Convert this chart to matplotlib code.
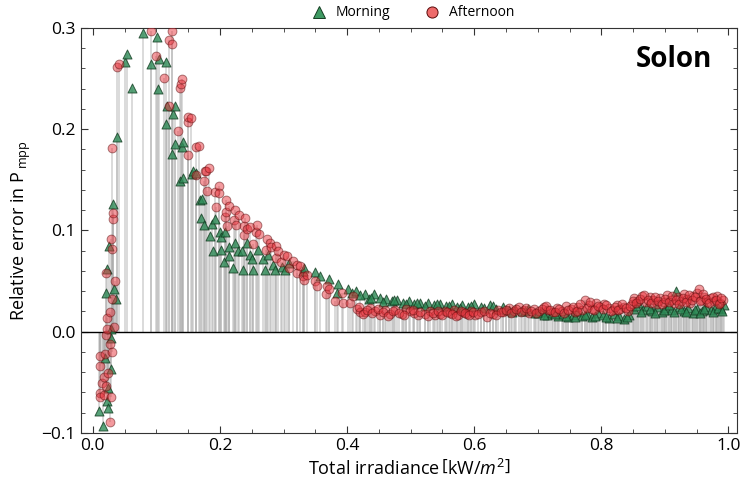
import matplotlib
matplotlib.use('Agg')
import matplotlib.pyplot as plt
import numpy as np
from matplotlib.lines import Line2D
from matplotlib.ticker import MultipleLocator, FormatStrFormatter, FuncFormatter

plt.rcParams['font.family'] = ['Open Sans', 'DejaVu Sans']
plt.rcParams['mathtext.fontset'] = 'custom'
plt.rcParams['mathtext.rm'] = 'Open Sans'
plt.rcParams['mathtext.it'] = 'Open Sans:italic'

# Morning (green triangles)
morning_x = [0.010, 0.016, 0.019, 0.020, 0.022, 0.023, 0.024, 0.024, 0.026, 0.029,
             0.029, 0.029, 0.032, 0.034, 0.036, 0.038, 0.051, 0.053, 0.061, 0.079,
             0.091, 0.101, 0.103, 0.104, 0.115, 0.115, 0.117, 0.124, 0.126, 0.129,
             0.129, 0.137, 0.140, 0.142, 0.142, 0.156, 0.158, 0.163, 0.168, 0.170,
             0.171, 0.175, 0.185, 0.187, 0.189, 0.192, 0.200, 0.201, 0.201, 0.206,
             0.208, 0.214, 0.215, 0.221, 0.224, 0.229, 0.234, 0.237, 0.242, 0.248,
             0.250, 0.252, 0.260, 0.267, 0.271, 0.276, 0.284, 0.287, 0.297, 0.302,
             0.308, 0.331, 0.332, 0.350, 0.357, 0.371, 0.384, 0.386, 0.402, 0.407,
             0.414, 0.428, 0.434, 0.443, 0.452, 0.461, 0.470, 0.478, 0.488, 0.497,
             0.506, 0.515, 0.528, 0.537, 0.546, 0.556, 0.565, 0.573, 0.581, 0.590,
             0.599, 0.610, 0.625, 0.635, 0.645, 0.655, 0.665, 0.675, 0.685, 0.695,
             0.705, 0.715, 0.722, 0.732, 0.740, 0.748, 0.755, 0.762, 0.770, 0.778,
             0.786, 0.795, 0.803, 0.812, 0.820, 0.828, 0.836, 0.844, 0.852, 0.858,
             0.865, 0.872, 0.880, 0.888, 0.895, 0.902, 0.910, 0.917, 0.922, 0.930,
             0.937, 0.944, 0.951, 0.958, 0.965, 0.972, 0.980, 0.988, 0.993,
             0.420, 0.438, 0.456, 0.474, 0.492, 0.510, 0.522, 0.541, 0.560, 0.578,
             0.595, 0.615, 0.630, 0.650, 0.660, 0.680, 0.700, 0.710, 0.727, 0.745,
             0.758, 0.774, 0.790, 0.808, 0.824, 0.840, 0.855, 0.862, 0.876, 0.884,
             0.898, 0.906, 0.914, 0.926, 0.934, 0.948, 0.955, 0.962, 0.976, 0.984,
             0.990]
morning_y = [-0.078, -0.093, -0.026, 0.038, -0.069, 0.062, -0.056, -0.075, 0.085, 0.003,
             -0.006, -0.037, 0.126, 0.042, 0.032, 0.192, 0.266, 0.274, 0.241, 0.295,
             0.264, 0.291, 0.240, 0.269, 0.266, 0.205, 0.223, 0.175, 0.215, 0.223,
             0.185, 0.149, 0.182, 0.187, 0.152, 0.156, 0.159, 0.157, 0.130, 0.112,
             0.131, 0.105, 0.094, 0.106, 0.080, 0.111, 0.098, 0.081, 0.093, 0.069,
             0.098, 0.084, 0.075, 0.063, 0.088, 0.080, 0.080, 0.061, 0.088, 0.076,
             0.072, 0.061, 0.081, 0.072, 0.061, 0.076, 0.066, 0.061, 0.064, 0.061,
             0.068, 0.060, 0.063, 0.059, 0.055, 0.052, 0.038, 0.047, 0.042, 0.038,
             0.040, 0.037, 0.032, 0.037, 0.033, 0.032, 0.030, 0.031, 0.028, 0.030,
             0.027, 0.028, 0.028, 0.026, 0.027, 0.025, 0.027, 0.024, 0.026, 0.024,
             0.027, 0.024, 0.026, 0.022, 0.024, 0.021, 0.022, 0.020, 0.022, 0.018,
             0.019, 0.016, 0.018, 0.015, 0.017, 0.014, 0.016, 0.019, 0.015, 0.017,
             0.014, 0.018, 0.016, 0.013, 0.017, 0.015, 0.012, 0.016, 0.022, 0.028,
             0.021, 0.025, 0.020, 0.024, 0.019, 0.023, 0.021, 0.040, 0.024, 0.020,
             0.023, 0.018, 0.022, 0.020, 0.024, 0.021, 0.025, 0.022, 0.026,
             0.036, 0.033, 0.029, 0.031, 0.027, 0.028, 0.025, 0.027, 0.025, 0.023,
             0.025, 0.023, 0.025, 0.021, 0.019, 0.020, 0.018, 0.016, 0.017, 0.015,
             0.014, 0.016, 0.015, 0.014, 0.013, 0.014, 0.025, 0.019, 0.022, 0.018,
             0.021, 0.026, 0.019, 0.022, 0.019, 0.021, 0.018, 0.022, 0.019, 0.023,
             0.020]

# Afternoon (red circles)
afternoon_x = [0.011, 0.012, 0.012, 0.012, 0.014, 0.017, 0.017, 0.019, 0.020, 0.020,
               0.020, 0.022, 0.023, 0.024, 0.027, 0.027, 0.027, 0.028, 0.029, 0.030,
               0.030, 0.030, 0.030, 0.031, 0.032, 0.034, 0.035, 0.038, 0.041, 0.091,
               0.099, 0.112, 0.120, 0.120, 0.124, 0.125, 0.134, 0.137, 0.138, 0.140,
               0.149, 0.149, 0.150, 0.154, 0.162, 0.163, 0.167, 0.175, 0.176, 0.178,
               0.179, 0.183, 0.192, 0.193, 0.198, 0.198, 0.208, 0.209, 0.210, 0.211,
               0.214, 0.222, 0.224, 0.225, 0.230, 0.238, 0.238, 0.240, 0.242, 0.247,
               0.252, 0.257, 0.259, 0.262, 0.272, 0.274, 0.279, 0.280, 0.288, 0.288,
               0.292, 0.296, 0.300, 0.305, 0.309, 0.315, 0.321, 0.321, 0.326, 0.331,
               0.332, 0.337, 0.350, 0.352, 0.367, 0.368, 0.371, 0.381, 0.392, 0.394,
               0.405, 0.409, 0.415, 0.421, 0.428, 0.436, 0.444, 0.452, 0.460, 0.468,
               0.476, 0.486, 0.493, 0.499, 0.506, 0.512, 0.523, 0.531, 0.539, 0.546,
               0.554, 0.562, 0.568, 0.575, 0.582, 0.588, 0.595, 0.602, 0.610, 0.620,
               0.630, 0.638, 0.646, 0.655, 0.662, 0.670, 0.678, 0.686, 0.694, 0.702,
               0.710, 0.716, 0.724, 0.730, 0.738, 0.744, 0.752, 0.758, 0.764, 0.770,
               0.774, 0.780, 0.786, 0.792, 0.798, 0.805, 0.812, 0.818, 0.824, 0.830,
               0.836, 0.842, 0.848, 0.852, 0.858, 0.864, 0.870, 0.876, 0.882, 0.888,
               0.893, 0.898, 0.904, 0.910, 0.915, 0.920, 0.925, 0.930, 0.935, 0.940,
               0.945, 0.950, 0.953, 0.957, 0.962, 0.967, 0.972, 0.977, 0.982, 0.987,
               0.991,
               0.418, 0.425, 0.432, 0.440, 0.448, 0.456, 0.464, 0.472, 0.481, 0.490,
               0.503, 0.515, 0.527, 0.535, 0.543, 0.550, 0.558, 0.565, 0.571, 0.579,
               0.585, 0.592, 0.598, 0.606, 0.615, 0.625, 0.634, 0.642, 0.650, 0.658,
               0.666, 0.674, 0.682, 0.690, 0.698, 0.706, 0.713, 0.720, 0.727, 0.734,
               0.741, 0.748, 0.755, 0.761, 0.767, 0.777, 0.783, 0.789, 0.795, 0.802,
               0.808, 0.815, 0.821, 0.827, 0.833, 0.839, 0.845, 0.850, 0.855, 0.861,
               0.867, 0.873, 0.879, 0.885, 0.890, 0.896, 0.901, 0.907, 0.912, 0.918,
               0.923, 0.928, 0.933, 0.938, 0.943, 0.948, 0.955, 0.960, 0.965, 0.970,
               0.975, 0.980, 0.985, 0.989]
afternoon_y = [-0.061, -0.024, -0.034, -0.065, -0.051, -0.045, -0.063, -0.022, -0.054, -0.003,
               0.058, 0.003, 0.013, -0.041, 0.019, -0.012, -0.089, -0.065, 0.091, 0.082,
               0.032, -0.020, 0.181, 0.111, 0.117, 0.005, 0.050, 0.261, 0.264, 0.297,
               0.272, 0.250, 0.288, 0.223, 0.284, 0.297, 0.198, 0.241, 0.245, 0.249,
               0.207, 0.174, 0.212, 0.211, 0.182, 0.155, 0.183, 0.149, 0.159, 0.159,
               0.139, 0.162, 0.138, 0.123, 0.144, 0.137, 0.113, 0.118, 0.130, 0.104,
               0.124, 0.110, 0.120, 0.105, 0.115, 0.104, 0.095, 0.112, 0.101, 0.103,
               0.087, 0.098, 0.105, 0.096, 0.081, 0.091, 0.088, 0.084, 0.085, 0.073,
               0.080, 0.069, 0.076, 0.075, 0.063, 0.070, 0.066, 0.058, 0.065, 0.055,
               0.051, 0.056, 0.050, 0.045, 0.037, 0.045, 0.042, 0.030, 0.038, 0.028,
               0.028, 0.035, 0.022, 0.019, 0.019, 0.023, 0.020, 0.016, 0.021, 0.017,
               0.021, 0.017, 0.022, 0.020, 0.018, 0.016, 0.017, 0.020, 0.016, 0.017,
               0.020, 0.018, 0.021, 0.016, 0.019, 0.017, 0.020, 0.016, 0.019, 0.014,
               0.017, 0.021, 0.019, 0.023, 0.020, 0.024, 0.021, 0.018, 0.022, 0.020,
               0.024, 0.021, 0.019, 0.023, 0.020, 0.025, 0.022, 0.019, 0.024, 0.021,
               0.031, 0.026, 0.022, 0.028, 0.024, 0.027, 0.023, 0.021, 0.026, 0.022,
               0.024, 0.020, 0.027, 0.033, 0.030, 0.035, 0.029, 0.034, 0.031, 0.027,
               0.033, 0.029, 0.036, 0.031, 0.028, 0.034, 0.030, 0.037, 0.032, 0.028,
               0.035, 0.038, 0.042, 0.031, 0.034, 0.029, 0.033, 0.030, 0.035, 0.028,
               0.031,
               0.024, 0.017, 0.021, 0.018, 0.022, 0.019, 0.015, 0.020, 0.018, 0.016,
               0.021, 0.019, 0.015, 0.018, 0.020, 0.016, 0.019, 0.017, 0.015, 0.020,
               0.018, 0.016, 0.019, 0.017, 0.020, 0.018, 0.016, 0.019, 0.021, 0.018,
               0.022, 0.019, 0.023, 0.020, 0.018, 0.022, 0.025, 0.021, 0.019, 0.022,
               0.018, 0.021, 0.024, 0.020, 0.027, 0.023, 0.029, 0.021, 0.025, 0.022,
               0.026, 0.020, 0.024, 0.021, 0.027, 0.023, 0.025, 0.030, 0.028, 0.032,
               0.036, 0.031, 0.028, 0.034, 0.030, 0.027, 0.032, 0.029, 0.035, 0.031,
               0.027, 0.033, 0.029, 0.036, 0.031, 0.034, 0.030, 0.037, 0.032, 0.028,
               0.034, 0.031, 0.027, 0.033]

fig = plt.figure(figsize=(7.41, 4.97), dpi=100)
ax = fig.add_axes([0.109, 0.129, 0.886, 0.815])

# stems from zero
ax.vlines(morning_x, 0, morning_y, color='#a8a8a8', alpha=0.45, lw=1.3, zorder=1)
ax.vlines(afternoon_x, 0, afternoon_y, color='#a8a8a8', alpha=0.45, lw=1.3, zorder=1)
ax.axhline(0, color='black', lw=1.0, zorder=2)

ax.scatter(morning_x, morning_y, marker='^', s=42, facecolor='#2e8b57', alpha=0.8,
           edgecolor='#143d22', linewidth=0.7, zorder=3)
ax.scatter(afternoon_x, afternoon_y, marker='o', s=40, facecolor='#e8363f', alpha=0.5,
           edgecolor='#5a0a0a', linewidth=0.7, zorder=4)

ax.set_xlim(-0.019, 1.014)
ax.set_ylim(-0.1, 0.3)
ax.xaxis.set_major_locator(MultipleLocator(0.2))
ax.xaxis.set_minor_locator(MultipleLocator(0.05))
ax.yaxis.set_major_locator(MultipleLocator(0.1))
ax.yaxis.set_minor_locator(MultipleLocator(0.02))
ax.xaxis.set_major_formatter(FormatStrFormatter('%.1f'))
ax.yaxis.set_major_formatter(FuncFormatter(
    lambda v, p: ('\u2212%.1f' % abs(v)) if v < -1e-9 else '%.1f' % abs(v)))
ax.tick_params(which='both', direction='in', top=True, right=True, labelsize=12.5, color='#333333')
ax.tick_params(which='major', length=5)
ax.tick_params(which='minor', length=3)
for s in ax.spines.values():
    s.set_color('#333333')

ax.set_xlabel(r'Total irradiance$\,\left[\mathrm{kW}/m^2\right]$', fontsize=13, labelpad=4)
ax.set_ylabel(r'Relative error in P$\,_{\mathrm{mpp}}$', fontsize=13, labelpad=6)

ax.text(0.962, 0.921, 'Solon', transform=ax.transAxes, ha='right', va='center',
        fontsize=20, fontweight='bold')

handles = [Line2D([], [], marker='^', ls='', markersize=8, markerfacecolor='#3f9a63',
                  markeredgecolor='#143d22', markeredgewidth=0.7, label='Morning'),
           Line2D([], [], marker='o', ls='', markersize=8, markerfacecolor='#ee6a6a',
                  markeredgecolor='#5a0a0a', markeredgewidth=0.7, label='Afternoon')]
fig.legend(handles=handles, loc='center', bbox_to_anchor=(0.553, 0.974), ncol=2,
           frameon=False, fontsize=10, handletextpad=0.2, columnspacing=2.0)

fig.savefig('out.png', dpi=100)
